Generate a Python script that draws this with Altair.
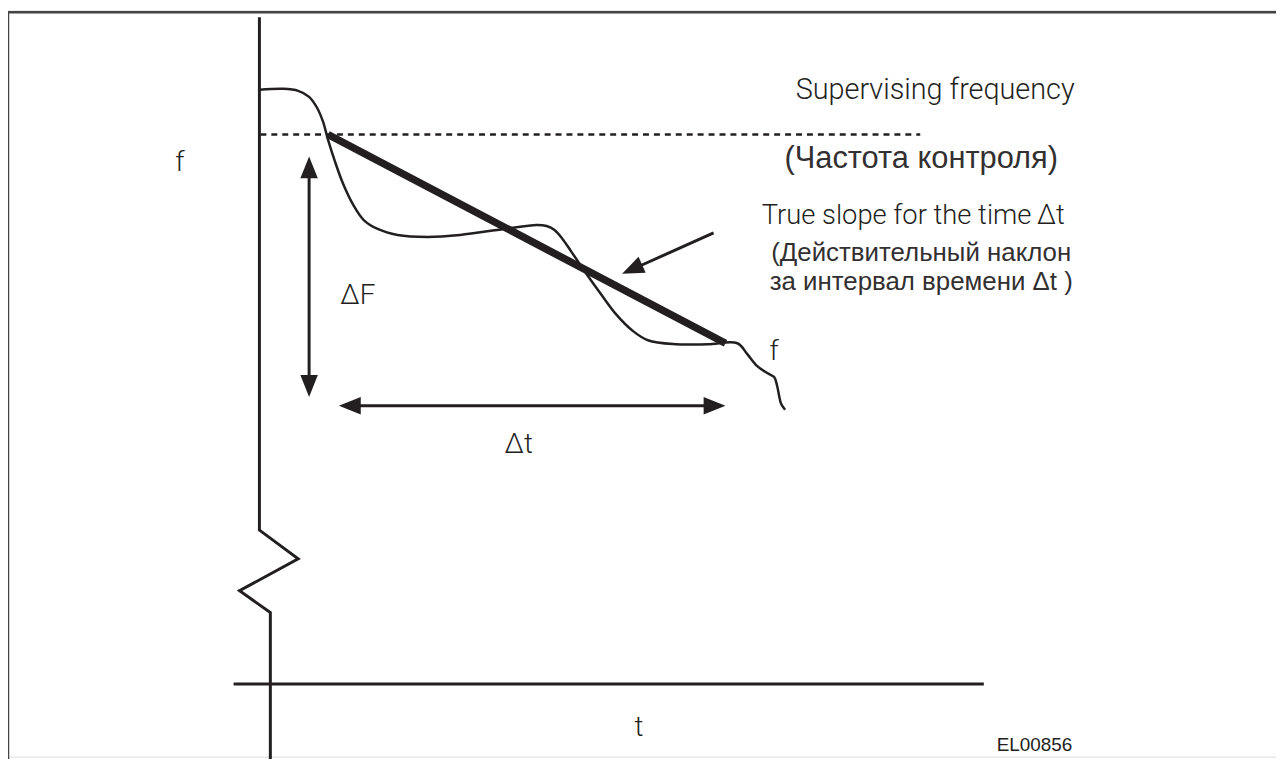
import altair as alt
import pandas as pd

INK = "#231f20"
FRAME = "#444444"

# ---- frame (page coordinates) ----
frame_x = [8, 8]
frame_x2 = [1284, 8]
frame_y = [10, 10]
frame_y2 = [10, 767]

# ---- f axis with break, and t axis ----
f_axis_x = [261, 261, 300, 241, 272, 272]
f_axis_y = [15, 531, 560, 592, 614, 762]
t_axis_x = [235, 990]
t_axis_y = [686, 686]

# ---- supervising frequency (dashed) ----
sup_x = [262, 926]
sup_y = [133, 133]

# ---- frequency curve f ----
curve_x = [261, 285, 300, 311, 319, 325, 330, 337, 345, 355, 366, 380, 400, 430,
           463, 507, 540, 550, 558, 566, 575, 590, 605, 620, 636, 652, 680, 712,
           742, 752, 762, 772, 779, 782, 784, 786, 790]
curve_y = [88, 87, 89, 95, 106, 120, 138, 160, 182, 203, 219, 228, 234, 236,
           234, 228, 224, 225, 229, 238, 251, 273, 294, 314, 330, 340, 344, 344,
           343, 354, 366, 373, 377, 386, 396, 404, 410]

# ---- true slope ----
slope_x = [330, 730]
slope_y = [133, 343]

# ---- arrow shafts ----
shaft_x = [311, 362, 718]
shaft_x2 = [311, 709, 642]
shaft_y = [176, 406, 232]
shaft_y2 = [376, 406, 266]

# ---- arrow heads: tip position and direction ----
head_x = [311, 311, 341, 730, 626]
head_y = [155, 397, 406, 406, 273]
head_angle = [0, 180, 270, 90, 246]

# ---- labels ----
lab_text = ["Supervising frequency", "True slope for the time\u2009Δt", "f", "ΔF", "Δt", "f", "t"]
lab_x = [941, 919, 181, 360, 522, 779, 643]
lab_y = [88, 215, 162, 296, 445, 352, 730]
lab_size = [29, 27.5, 28, 28, 28, 28, 28]

ru_text = ["(Частота контроля)", "(Действительный наклон", "за интервал времени Δt )"]
ru_x = [927, 927, 927]
ru_y = [158, 252, 281]
ru_size = [31, 26, 26]

code_text = ["EL00856"]
code_x = [1041]
code_y = [747]

xs = alt.Scale(domain=[8, 1284], nice=False, zero=False)
ys = alt.Scale(domain=[8, 759], nice=False, zero=False, reverse=True)


def X(f):
    return alt.X(f, type="quantitative", scale=xs, axis=None)


def Y(f):
    return alt.Y(f, type="quantitative", scale=ys, axis=None)


frame = alt.Chart(pd.DataFrame({"x": frame_x, "x2": frame_x2, "y": frame_y, "y2": frame_y2})).mark_rule(
    color=FRAME, strokeWidth=2.5
).encode(x=X("x"), x2="x2", y=Y("y"), y2="y2")

f_axis = alt.Chart(pd.DataFrame({"x": f_axis_x, "y": f_axis_y, "i": range(len(f_axis_x))})).mark_line(
    color=INK, strokeWidth=3, strokeJoin="miter"
).encode(x=X("x"), y=Y("y"), order="i:Q")

t_axis = alt.Chart(pd.DataFrame({"x": t_axis_x, "y": t_axis_y, "i": [0, 1]})).mark_line(
    color=INK, strokeWidth=3
).encode(x=X("x"), y=Y("y"), order="i:Q")

sup = alt.Chart(pd.DataFrame({"x": sup_x, "y": sup_y, "i": [0, 1]})).mark_line(
    color=INK, strokeWidth=2.5, strokeDash=[6, 5]
).encode(x=X("x"), y=Y("y"), order="i:Q")

curve = alt.Chart(pd.DataFrame({"x": curve_x, "y": curve_y, "i": range(len(curve_x))})).mark_line(
    color=INK, strokeWidth=2.5, interpolate="catmull-rom"
).encode(x=X("x"), y=Y("y"), order="i:Q")

slope = alt.Chart(pd.DataFrame({"x": slope_x, "y": slope_y, "i": [0, 1]})).mark_line(
    color=INK, strokeWidth=7.5, strokeCap="butt"
).encode(x=X("x"), y=Y("y"), order="i:Q")

shafts = alt.Chart(pd.DataFrame({"x": shaft_x, "x2": shaft_x2, "y": shaft_y, "y2": shaft_y2})).mark_rule(
    color=INK, strokeWidth=3
).encode(x=X("x"), x2="x2", y=Y("y"), y2="y2")

heads = alt.Chart(pd.DataFrame({"x": head_x, "y": head_y, "a": head_angle})).mark_point(
    shape="M0,0L-0.8,2L0.8,2Z", filled=True, color=INK, opacity=1, size=484, strokeWidth=0
).encode(x=X("x"), y=Y("y"), angle=alt.Angle("a:Q", scale=None))

labels = alt.Chart(pd.DataFrame({"t": lab_text, "x": lab_x, "y": lab_y, "s": lab_size})).mark_text(
    font="Roboto", fontWeight=300, color=INK, align="center", baseline="middle"
).encode(x=X("x"), y=Y("y"), text="t:N", size=alt.Size("s:Q", scale=None, legend=None))

ru = alt.Chart(pd.DataFrame({"t": ru_text, "x": ru_x, "y": ru_y, "s": ru_size})).mark_text(
    font="Liberation Sans", color="#333031", align="center", baseline="middle"
).encode(x=X("x"), y=Y("y"), text="t:N", size=alt.Size("s:Q", scale=None, legend=None))

code = alt.Chart(pd.DataFrame({"t": code_text, "x": code_x, "y": code_y})).mark_text(
    font="Liberation Sans", fontSize=19, color=INK, align="center", baseline="middle"
).encode(x=X("x"), y=Y("y"), text="t:N")

chart = alt.layer(frame, f_axis, t_axis, sup, curve, slope, shafts, heads, labels, ru, code).properties(
    width=1276, height=751, padding=0, autosize=alt.AutoSizeParams(type="none")
).configure_view(stroke=None).configure(background="white")

chart.save("out.html", embed_options={"renderer": "svg", "actions": False})
